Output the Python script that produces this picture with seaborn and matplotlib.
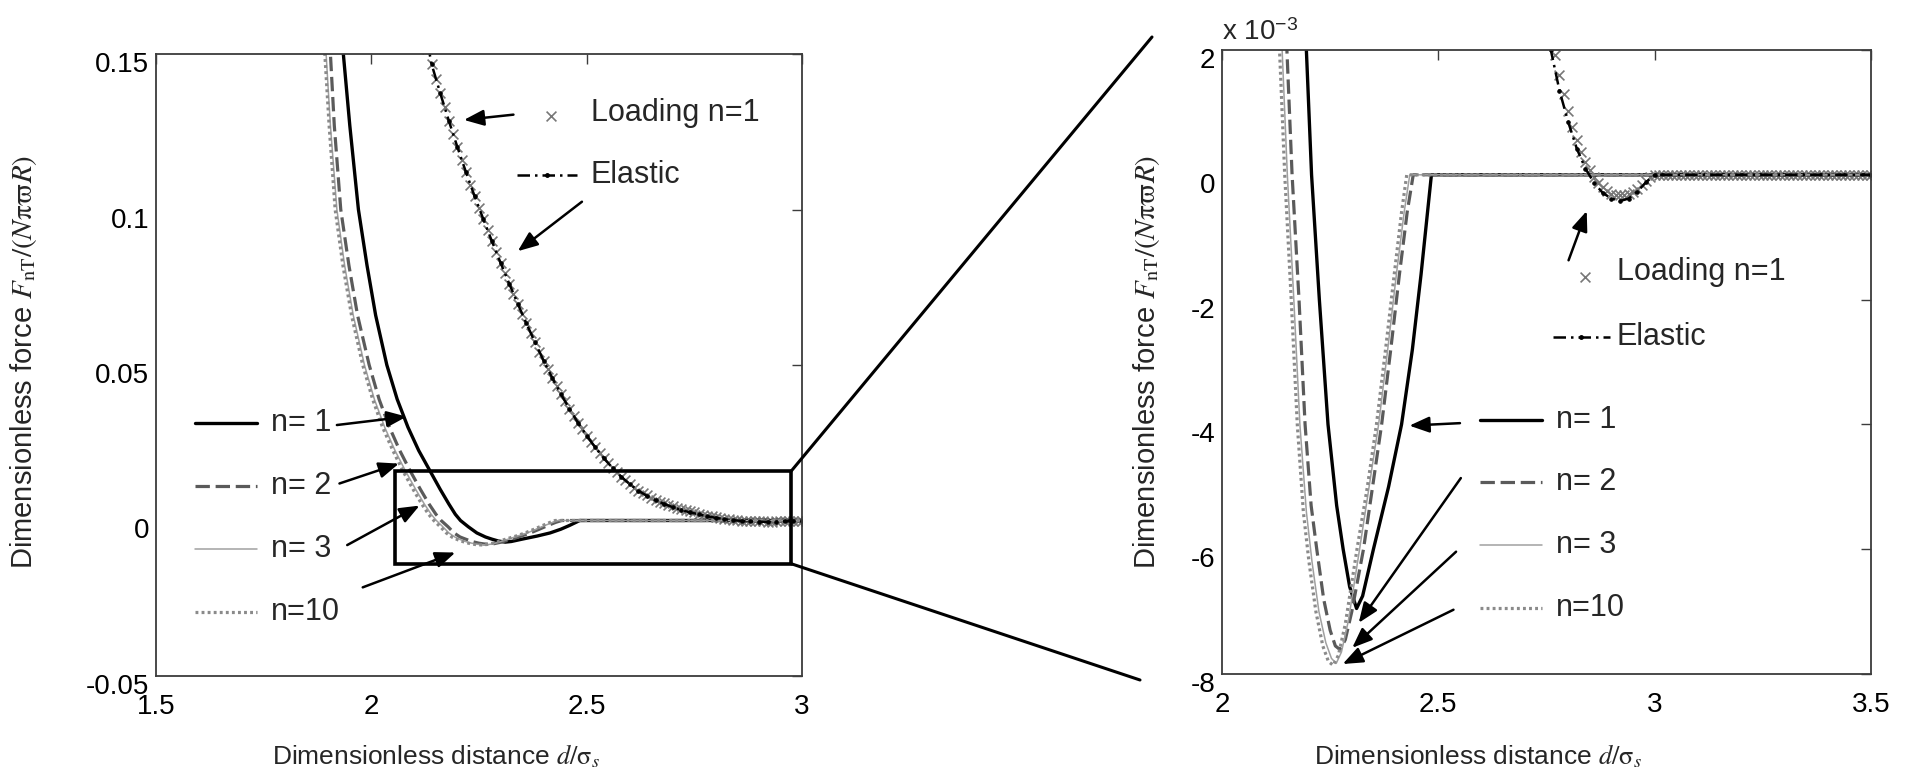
import numpy as np
import matplotlib
matplotlib.use("Agg")
import matplotlib.pyplot as plt
import seaborn as sns
from matplotlib.transforms import ScaledTranslation
from matplotlib.patches import Rectangle, ConnectionPatch
from matplotlib import font_manager

# ---------------- data (force in units of 1e-3) ----------------
n1_x = [1.928, 1.935, 1.950, 1.970, 1.990, 2.010, 2.036, 2.060, 2.085, 2.110, 2.136, 2.160,
        2.180, 2.195, 2.207, 2.225, 2.245, 2.265, 2.280, 2.295, 2.311, 2.325, 2.350, 2.385,
        2.415, 2.440, 2.460, 2.475, 2.484, 3.500]
n1_f = [162, 150, 127, 100, 82, 66, 50, 39, 30, 22.5, 16, 10,
        5.3, 2, 0, -2, -4, -5.3, -6, -6.6, -6.95, -6.75, -6.0, -5.0,
        -4.0, -2.8, -1.6, -0.6, 0, 0]

n2_x = [1.898, 1.905, 1.914, 1.929, 1.948, 1.968, 1.995, 2.018, 2.042, 2.066, 2.090, 2.114,
        2.134, 2.150, 2.162, 2.178, 2.192, 2.206, 2.219, 2.235, 2.250, 2.262, 2.273, 2.285,
        2.300, 2.327, 2.348, 2.369, 2.390, 2.410, 2.428, 2.442, 3.500]
n2_f = [162, 150, 127, 100, 82, 66, 50, 39, 30, 22.5, 16, 10,
        5.3, 2, 0, -2, -4, -5.3, -6, -6.8, -7.3, -7.55, -7.61, -7.45,
        -7.0, -6.0, -5.0, -4.0, -2.8, -1.6, -0.6, 0, 0]

n3_x = [1.888, 1.895, 1.905, 1.920, 1.938, 1.958, 1.984, 2.007, 2.031, 2.055, 2.079, 2.103,
        2.123, 2.139, 2.151, 2.166, 2.180, 2.195, 2.208, 2.224, 2.240, 2.253, 2.264, 2.276,
        2.292, 2.318, 2.340, 2.362, 2.383, 2.403, 2.421, 2.434, 3.500]
n3_f = [162, 150, 127, 100, 82, 66, 50, 39, 30, 22.5, 16, 10,
        5.3, 2, 0, -2, -4, -5.4, -6.2, -7.0, -7.5, -7.75, -7.83, -7.65,
        -7.15, -6.0, -5.0, -4.0, -2.8, -1.6, -0.6, 0, 0]

n10_x = [1.885, 1.892, 1.902, 1.916, 1.934, 1.954, 1.980, 2.003, 2.026, 2.050, 2.073, 2.097,
         2.117, 2.133, 2.145, 2.160, 2.174, 2.188, 2.201, 2.217, 2.233, 2.246, 2.257, 2.269,
         2.285, 2.312, 2.336, 2.357, 2.378, 2.398, 2.415, 2.427, 3.500]
n10_f = [162, 150, 127, 100, 82, 66, 50, 39, 30, 22.5, 16, 10,
         5.3, 2, 0, -2, -4, -5.4, -6.2, -7.0, -7.55, -7.8, -7.86, -7.7,
         -7.2, -6.0, -5.0, -4.0, -2.8, -1.6, -0.6, 0, 0]

elastic_x = [2.12, 2.14, 2.16, 2.18, 2.20, 2.22, 2.24, 2.26, 2.28, 2.30, 2.32, 2.34, 2.36,
             2.38, 2.40, 2.42, 2.44, 2.46, 2.48, 2.50, 2.52, 2.54, 2.56, 2.58, 2.60, 2.62,
             2.64, 2.66, 2.68, 2.70, 2.72, 2.74, 2.76, 2.78, 2.80, 2.82, 2.84, 2.86, 2.88,
             2.90, 2.92, 2.94, 2.96, 2.98, 3.00, 3.50]
elastic_f = [161, 146.7, 137.4, 128.5, 120.0, 111.9, 104.2, 96.9, 89.8, 82.9, 76.2, 69.7, 63.4,
             57.3, 51.4, 45.9, 40.7, 35.9, 31.4, 27.3, 23.5, 20.0, 16.9, 14.1, 11.7, 9.6,
             7.9, 6.5, 5.3, 4.3, 3.35, 2.6, 2.0, 1.35, 0.85, 0.42, 0.10, -0.13, -0.29,
             -0.38, -0.42, -0.38, -0.27, -0.12, 0, 0]

loading_x = [2.13, 2.14, 2.15, 2.16,
             2.17, 2.18, 2.19, 2.20, 2.21, 2.22, 2.23, 2.24, 2.25, 2.26, 2.27, 2.28, 2.29, 2.30,
             2.31, 2.32, 2.33, 2.34, 2.35, 2.36, 2.37, 2.38, 2.39, 2.40, 2.41, 2.42, 2.43, 2.44,
             2.45, 2.46, 2.47, 2.48, 2.49, 2.50, 2.51, 2.52, 2.53, 2.54, 2.55, 2.56, 2.57, 2.58,
             2.59, 2.60, 2.61, 2.62, 2.63, 2.64, 2.65, 2.66, 2.67, 2.68, 2.69, 2.70, 2.71, 2.72,
             2.73, 2.74, 2.75, 2.76, 2.77, 2.78, 2.79, 2.80, 2.81, 2.82, 2.83, 2.84, 2.85, 2.86,
             2.87, 2.88, 2.89, 2.90, 2.91, 2.92, 2.93, 2.94, 2.95, 2.96, 2.97, 2.98, 2.99, 3.00,
             3.01, 3.02, 3.03, 3.04, 3.05, 3.06, 3.07, 3.08, 3.09, 3.10, 3.11, 3.12, 3.13, 3.14,
             3.15, 3.16, 3.17, 3.18, 3.19, 3.20, 3.21, 3.22, 3.23, 3.24, 3.25, 3.26, 3.27, 3.28,
             3.29, 3.30, 3.31, 3.32, 3.33, 3.34, 3.35, 3.36, 3.37, 3.38, 3.39, 3.40, 3.41, 3.42,
             3.43, 3.44, 3.45, 3.46, 3.47, 3.48, 3.49, 3.50]
loading_f = [151.5, 146.7, 142.0, 137.4,
             132.9, 128.5, 124.2, 120.0, 115.9, 111.9, 108.0, 104.2, 100.5, 96.9, 93.3, 89.8,
             86.3, 82.9, 79.5, 76.2, 72.9, 69.7, 66.5, 63.4, 60.3, 57.3, 54.3, 51.4, 48.6, 45.9,
             43.3, 40.7, 38.3, 35.9, 33.6, 31.4, 29.3, 27.3, 25.3, 23.5, 21.7, 20.0, 18.4, 16.9,
             15.5, 14.1, 12.9, 11.7, 10.6, 9.6, 8.8, 8.05, 7.35, 6.7, 6.1, 5.55, 5.05, 4.55,
             4.1, 3.68, 3.3, 2.95, 2.6, 2.25, 1.92, 1.6, 1.3, 1.02, 0.77, 0.55, 0.36, 0.2,
             0.07, -0.04, -0.13, -0.2, -0.26, -0.3, -0.32, -0.33, -0.33, -0.31, -0.28, -0.23,
             -0.17, -0.1, -0.04, 0,
             0, 0, 0, 0, 0, 0, 0, 0, 0, 0, 0, 0, 0, 0, 0, 0, 0, 0, 0, 0, 0, 0, 0, 0, 0,
             0, 0, 0, 0, 0, 0, 0, 0, 0, 0, 0, 0, 0, 0, 0, 0, 0, 0, 0, 0, 0, 0, 0, 0, 0]

left_xticks = [1.5, 2, 2.5, 3]
left_xticklabels = ["1.5", "2", "2.5", "3"]
left_yticks = [-0.05, 0, 0.05, 0.1, 0.15]
left_yticklabels = ["-0.05", "0", "0.05", "0.1", "0.15"]
right_xticks = [2, 2.5, 3, 3.5]
right_xticklabels = ["2", "2.5", "3", "3.5"]
right_yticks = [-8, -6, -4, -2, 0, 2]
right_yticklabels = ["-8", "-6", "-4", "-2", "0", "2"]
legend_labels = ["n= 1", "n= 2", "n= 3", "n=10"]

# ---------------- style ----------------
sns.set_theme(style="white")
installed = {f.name for f in font_manager.fontManager.ttflist}
NARROW = "Liberation Sans Narrow" in installed
if NARROW:
    plt.rcParams["font.family"] = ["Liberation Sans Narrow", "Liberation Sans", "DejaVu Sans"]
    k = 1.2
else:
    plt.rcParams["font.family"] = ["Liberation Sans", "DejaVu Sans"]
    k = 1.0
plt.rcParams["mathtext.fontset"] = "stix"

W, H = 1912, 776
fig = plt.figure(figsize=(W / 100, H / 100), dpi=100)
fig.patch.set_facecolor("white")

ax1 = fig.add_axes([156 / W, 1 - 676 / H, 646 / W, 622 / H])
ax2 = fig.add_axes([1222 / W, 1 - 674 / H, 649 / W, 624 / H])

styles = [
    dict(color="black", lw=2.4, linestyle="-"),
    dict(color="#5a5a5a", lw=2.3, linestyle=(0, (4.5, 1.8))),
    dict(color="#a0a0a0", lw=1.1, linestyle="-"),
    dict(color="#8a8a8a", lw=2.3, linestyle=(0, (0.9, 1.0))),
]
curves = [(n1_x, n1_f), (n2_x, n2_f), (n3_x, n3_f), (n10_x, n10_f)]
load_style = dict(marker="x", color="#777777", s=50, linewidth=1.2)
el_style = dict(color="black", lw=1.8, linestyle=(0, (5, 2, 1, 2)), marker=".",
                markersize=5, markeredgecolor="black", markerfacecolor="black")


def draw(ax, scale):
    for (xs, fs), st in zip(curves, styles):
        sns.lineplot(x=xs, y=np.array(fs) * scale, ax=ax, sort=False, errorbar=None, **st)
    sns.scatterplot(x=loading_x, y=np.array(loading_f) * scale, ax=ax, **load_style)
    sns.lineplot(x=elastic_x, y=np.array(elastic_f) * scale, ax=ax, sort=False,
                 errorbar=None, **el_style)


draw(ax1, 1e-3)
draw(ax2, 1.0)

ax1.set_xlim(1.5, 3.0)
ax1.set_ylim(-0.05, 0.15)
ax2.set_xlim(2.0, 3.5)
ax2.set_ylim(-8, 2)
ax1.set_xticks(left_xticks, left_xticklabels)
ax1.set_yticks(left_yticks, left_yticklabels)
ax2.set_xticks(right_xticks, right_xticklabels)
ax2.set_yticks(right_yticks, right_yticklabels)

for ax in (ax1, ax2):
    ax.set_xlabel("")
    ax.set_ylabel("")
    for sp in ax.spines.values():
        sp.set_visible(True)
        sp.set_color("#3c3c3c")
        sp.set_linewidth(1.3)
    ax.tick_params(axis="both", which="major", direction="in", length=7, width=1.0,
                   color="#3c3c3c", top=True, right=True, labelsize=20 * k, labelcolor="black")
    ax.tick_params(axis="x", pad=13 - 2 * (k - 1) * 10)
    ax.tick_params(axis="y", pad=5)
    off = ScaledTranslation(0, -8 / 100, fig.dpi_scale_trans)
    for lab in ax.get_yticklabels():
        lab.set_transform(lab.get_transform() + off)

# axis labels
ylab = r"Dimensionless force $F_{\mathrm{nT}}/(N\mathrm{\pi}\mathrm{\varpi} R)$"
xlab = r"Dimensionless distance $d/\mathrm{\sigma}_s$"
fig.text(24 / W, 1 - 362 / H, ylab, rotation=90, ha="center", va="center", fontsize=21 * k)
fig.text(1147 / W, 1 - 362 / H, ylab, rotation=90, ha="center", va="center", fontsize=21 * k)
fig.text(436 / W, 1 - 756 / H, xlab, ha="center", va="center", fontsize=19 * k)
fig.text(1478 / W, 1 - 756 / H, xlab, ha="center", va="center", fontsize=19 * k)
fig.text(1222 / W, 1 - 33 / H, r"x 10$^{\mathregular{-3}}$", ha="left", va="center",
         fontsize=20 * k)

# zoom box and connectors
box = Rectangle((2.055, -0.0139), 2.975 - 2.055, 0.0159 + 0.0139, fill=False,
                edgecolor="black", lw=2.6, zorder=6)
ax1.add_patch(box)
for corner, end in [((2.975, 0.0159), (1152, 37)), ((2.975, -0.0139), (1140, 680))]:
    con = ConnectionPatch(xyA=corner, coordsA=ax1.transData,
                          xyB=(end[0] / W, 1 - end[1] / H), coordsB=fig.transFigure,
                          color="black", lw=2.2)
    fig.add_artist(con)

arrow_kw = dict(arrowstyle="-|>,head_length=0.55,head_width=0.22", color="black", lw=1.8,
                mutation_scale=22, shrinkA=0, shrinkB=0)
FS = 22 * k


def arrow(ax, tail, tip):
    ax.annotate("", xy=tip, xytext=tail, arrowprops=arrow_kw, annotation_clip=False)


# ----- left annotations -----
leg_y1 = [0.0313, 0.0111, -0.0092, -0.0294]
for st, y, lab in zip(styles, leg_y1, legend_labels):
    ax1.plot([1.590, 1.734], [y, y], clip_on=False, **st)
    ax1.text(1.767, y, lab, fontsize=FS, ha="left", va="center")
arrow(ax1, (1.920, 0.0307), (2.082, 0.0334))
arrow(ax1, (1.926, 0.0119), (2.064, 0.0183))
arrow(ax1, (1.944, -0.0079), (2.112, 0.0048))
arrow(ax1, (1.980, -0.0215), (2.195, -0.0103))

ax1.scatter([2.417], [0.130], **load_style)
ax1.text(2.510, 0.131, "Loading n=1", fontsize=FS, ha="left", va="center")
ax1.plot([2.339, 2.408, 2.477], [0.111, 0.111, 0.111], markevery=[1], **el_style)
ax1.text(2.510, 0.111, "Elastic", fontsize=FS, ha="left", va="center")
arrow(ax1, (2.330, 0.1305), (2.215, 0.1288))
arrow(ax1, (2.489, 0.1025), (2.340, 0.0866))

# ----- right annotations -----
leg_y2 = [-3.93, -4.93, -5.94, -6.95]
for st, y, lab in zip(styles, leg_y2, legend_labels):
    ax2.plot([2.597, 2.739], [y, y], clip_on=False, **st)
    ax2.text(2.772, y, lab, fontsize=FS, ha="left", va="center")
arrow(ax2, (2.550, -3.98), (2.433, -4.02))
arrow(ax2, (2.552, -4.86), (2.316, -7.18))
arrow(ax2, (2.541, -6.04), (2.301, -7.58))
arrow(ax2, (2.535, -6.97), (2.279, -7.84))

ax2.scatter([2.840], [-1.63], **load_style)
ax2.text(2.912, -1.55, "Loading n=1", fontsize=FS, ha="left", va="center")
ax2.plot([2.765, 2.830, 2.896], [-2.6, -2.6, -2.6], markevery=[1], **el_style)
ax2.text(2.912, -2.6, "Elastic", fontsize=FS, ha="left", va="center")
arrow(ax2, (2.801, -1.37), (2.843, -0.58))

fig.savefig("out.png", dpi=100, facecolor="white")
